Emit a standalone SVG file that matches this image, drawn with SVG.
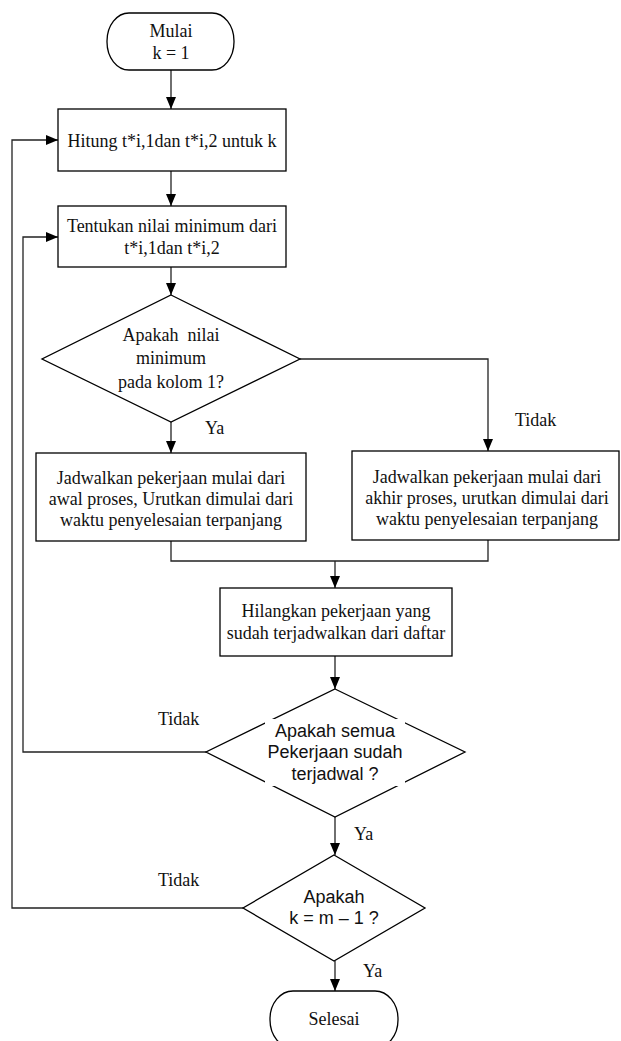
<svg xmlns="http://www.w3.org/2000/svg" width="621" height="1041" viewBox="0 0 621 1041">
<style>
.shape{fill:#fff;stroke:#000;stroke-width:1.3}
.conn{fill:none;stroke:#222;stroke-width:1.3}
.t{font-family:"Liberation Serif","Times New Roman",serif;font-size:18px;fill:#111;text-anchor:middle;white-space:pre}
.s{font-family:"Liberation Sans",Arial,sans-serif;font-size:18px;fill:#111;text-anchor:middle}
.lbl{font-family:"Liberation Serif","Times New Roman",serif;font-size:18px;fill:#111}
</style>
<defs>
<marker id="ah" viewBox="0 0 12 10" refX="12" refY="5" markerWidth="12" markerHeight="10" markerUnits="userSpaceOnUse" orient="auto">
<path d="M0,0 L12,5 L0,10 z" fill="#000"/>
</marker>
</defs>
<rect width="621" height="1041" fill="#fff"/>
<g id="connectors">
<path class="conn" d="M171,70 V109" marker-end="url(#ah)"/>
<path class="conn" d="M171,171 V206" marker-end="url(#ah)"/>
<path class="conn" d="M171,267 V295" marker-end="url(#ah)"/>
<path class="conn" d="M171,422 V453" marker-end="url(#ah)"/>
<path class="conn" d="M300,359 H488 V451" marker-end="url(#ah)"/>
<path class="conn" d="M171,541 V561 H488 V540"/>
<path class="conn" d="M335,561 V588" marker-end="url(#ah)"/>
<path class="conn" d="M335,656 V689" marker-end="url(#ah)"/>
<path class="conn" d="M206,752 H23 V237 H58" marker-end="url(#ah)"/>
<path class="conn" d="M335,817 V855" marker-end="url(#ah)"/>
<path class="conn" d="M243,908 H12 V140 H58" marker-end="url(#ah)"/>
<path class="conn" d="M335,961 V991" marker-end="url(#ah)"/>
<text class="lbl" x="205" y="434">Ya</text>
<text class="lbl" x="515" y="426">Tidak</text>
<text class="lbl" x="158" y="725">Tidak</text>
<text class="lbl" x="354" y="840">Ya</text>
<text class="lbl" x="158" y="886">Tidak</text>
<text class="lbl" x="363" y="977">Ya</text>
</g>
<g id="start">
<rect class="shape" x="107" y="13" width="127" height="57" rx="22" ry="28"/>
<text class="t" x="171" y="37">Mulai</text>
<text class="t" x="171" y="59">k = 1</text>
</g>
<g id="hitung">
<rect class="shape" x="58" y="109" width="228" height="62"/>
<text class="t" x="172" y="147">Hitung t*i,1dan t*i,2 untuk k</text>
</g>
<g id="tentukan">
<rect class="shape" x="58" y="206" width="228" height="61"/>
<text class="t" x="172" y="232">Tentukan nilai minimum dari</text>
<text class="t" x="172" y="254">t*i,1dan t*i,2</text>
</g>
<g id="decision1">
<polygon class="shape" points="171,295 300,359 171,422 42,359"/>
<text class="t" x="171" y="341">Apakah  nilai</text>
<text class="t" x="171" y="364">minimum</text>
<text class="t" x="171" y="388">pada kolom 1?</text>
</g>
<g id="jadwal-awal">
<rect class="shape" x="36" y="453" width="270" height="88"/>
<text class="t" x="171" y="484">Jadwalkan pekerjaan mulai dari</text>
<text class="t" x="171" y="505">awal proses, Urutkan dimulai dari</text>
<text class="t" x="171" y="526">waktu penyelesaian terpanjang</text>
</g>
<g id="jadwal-akhir">
<rect class="shape" x="352" y="451" width="267" height="89"/>
<text class="t" x="487" y="483">Jadwalkan pekerjaan mulai dari</text>
<text class="t" x="487" y="504">akhir proses, urutkan dimulai dari</text>
<text class="t" x="487" y="525">waktu penyelesaian terpanjang</text>
</g>
<g id="hilangkan">
<rect class="shape" x="220" y="588" width="232" height="68"/>
<text class="t" x="336" y="617">Hilangkan pekerjaan yang</text>
<text class="t" x="336" y="639">sudah terjadwalkan dari daftar</text>
</g>
<g id="decision2">
<polygon class="shape" points="335,689 465,752 335,817 206,752"/>
<rect x="265" y="719" width="140" height="67" fill="#fff"/>
<text class="s" x="335" y="737">Apakah semua</text>
<text class="s" x="335" y="758">Pekerjaan sudah</text>
<text class="s" x="335" y="780">terjadwal ?</text>
</g>
<g id="decision3">
<polygon class="shape" points="334,855 425,908 334,961 243,908"/>
<text class="s" x="334" y="903">Apakah</text>
<text class="s" x="334" y="924">k = m – 1 ?</text>
</g>
<g id="end">
<rect class="shape" x="270" y="991" width="128" height="57" rx="23" ry="28"/>
<text class="t" x="334" y="1025">Selesai</text>
</g>
</svg>
